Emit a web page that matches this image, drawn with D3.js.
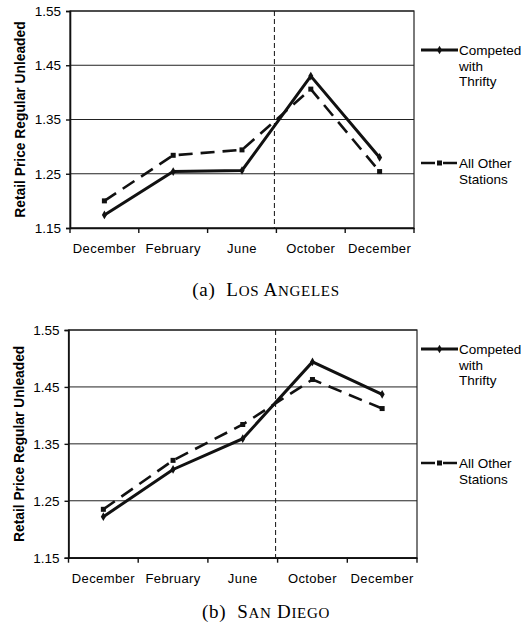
<!DOCTYPE html>
<html>
<head>
<meta charset="utf-8">
<script src="https://cdn.jsdelivr.net/npm/d3@7"></script>
<style>
  body { margin: 0; background: #fff; }
  svg { display: block; }
  text { font-family: "Liberation Sans", Arial, sans-serif; fill: #000; }
</style>
</head>
<body>
<script>
// months on the x axis (five survey dates)
var months = ["December", "February", "June", "October", "December"];
var yTicks = [1.15, 1.25, 1.35, 1.45, 1.55];

// Los Angeles
var laCompeted = [1.174, 1.254, 1.256, 1.430, 1.280];
var laOther = [1.200, 1.284, 1.294, 1.406, 1.254];
// San Diego
var sdCompeted = [1.222, 1.305, 1.359, 1.494, 1.437];
var sdOther = [1.235, 1.321, 1.384, 1.463, 1.412];

var seriesNames = [["Competed", "with", "Thrifty"], ["All Other", "Stations"]];

var w = 530, h = 631;

var svg = d3.select("body").append("svg")
  .attr("width", w)
  .attr("height", h);

//draws one panel
function panel(box, competed, other, label, city) {
  var g = svg.append("g");

  var xScale = d3.scaleBand()
    .domain(d3.range(months.length))
    .range([box.left, box.right]);

  var yScale = d3.scaleLinear()
    .domain([1.15, 1.55])
    .range([box.bottom, box.top]);

  //gridlines
  g.selectAll(".grid")
    .data(yTicks)
    .enter()
    .append("line")
    .attr("x1", box.left)
    .attr("x2", box.right)
    .attr("y1", (d) => yScale(d))
    .attr("y2", (d) => yScale(d))
    .attr("stroke", "#222")
    .attr("stroke-width", 1);

  //frame
  g.append("rect")
    .attr("x", box.left)
    .attr("y", box.top)
    .attr("width", box.right - box.left)
    .attr("height", box.bottom - box.top)
    .attr("fill", "none")
    .attr("stroke", "#222")
    .attr("stroke-width", 1.2);

  //y axis
  var yAxis = d3.axisLeft(yScale)
    .tickValues(yTicks)
    .tickFormat(d3.format(".2f"))
    .tickSize(4)
    .tickPadding(5);

  var ya = g.append("g")
    .attr("transform", "translate(" + box.left + ",0)")
    .call(yAxis);
  ya.select(".domain").attr("stroke", "#111").attr("stroke-width", 1.6);
  ya.selectAll(".tick line").attr("stroke", "#111").attr("stroke-width", 1.4);
  ya.selectAll(".tick text")
    .style("font-family", "'Liberation Sans', Arial, sans-serif")
    .style("font-size", "13.5px")
    .attr("fill", "#000");

  //x axis labels centred in the bands
  var xAxis = d3.axisBottom(xScale)
    .tickFormat((i) => months[i])
    .tickSize(0)
    .tickPadding(16);

  var xa = g.append("g")
    .attr("transform", "translate(0," + box.bottom + ")")
    .call(xAxis);
  xa.select(".domain").attr("stroke", "#111").attr("stroke-width", 1.6);
  xa.selectAll(".tick text")
    .style("font-family", "'Liberation Sans', Arial, sans-serif")
    .style("font-size", "13px")
    .style("letter-spacing", "0.4px")
    .attr("fill", "#000");

  //tick marks on band edges
  var edges = d3.range(months.length).map((i) => xScale(i)).concat([box.right]);
  g.selectAll(".edge")
    .data(edges)
    .enter()
    .append("line")
    .attr("x1", (d) => d)
    .attr("x2", (d) => d)
    .attr("y1", box.bottom)
    .attr("y2", box.bottom + 5)
    .attr("stroke", "#111")
    .attr("stroke-width", 1.4);

  //divider between June and October
  g.append("line")
    .attr("x1", xScale(3) - 2)
    .attr("x2", xScale(3) - 2)
    .attr("y1", box.top)
    .attr("y2", box.bottom)
    .attr("stroke", "#111")
    .attr("stroke-width", 1)
    .attr("stroke-dasharray", "5,3");

  var line = d3.line()
    .x((d, i) => xScale(i) + xScale.bandwidth() / 2)
    .y((d) => yScale(d));

  g.append("path")
    .datum(other)
    .attr("d", line)
    .attr("fill", "none")
    .attr("stroke", "#111")
    .attr("stroke-width", 2.6)
    .attr("stroke-dasharray", "14,8");

  g.selectAll(".osq")
    .data(other)
    .enter()
    .append("rect")
    .attr("x", (d, i) => xScale(i) + xScale.bandwidth() / 2 - 2.5)
    .attr("y", (d) => yScale(d) - 2.5)
    .attr("width", 5)
    .attr("height", 5)
    .attr("fill", "#111");

  g.append("path")
    .datum(competed)
    .attr("d", line)
    .attr("fill", "none")
    .attr("stroke", "#111")
    .attr("stroke-width", 3)
    .attr("stroke-linejoin", "miter");

  g.selectAll(".cdm")
    .data(competed)
    .enter()
    .append("path")
    .attr("d", d3.symbol(d3.symbolDiamond, 22))
    .attr("transform", (d, i) => "translate(" + (xScale(i) + xScale.bandwidth() / 2) + "," + yScale(d) + ")")
    .attr("fill", "#111");

  //y title
  g.append("text")
    .attr("transform", "translate(" + (box.left - 45) + "," + ((box.top + box.bottom) / 2) + ") rotate(-90)")
    .attr("text-anchor", "middle")
    .style("font-size", "13.8px")
    .style("font-weight", "bold")
    .text("Retail Price Regular Unleaded");

  //legend
  var lx = 421, lx2 = 458;
  g.append("line")
    .attr("x1", lx).attr("x2", lx2)
    .attr("y1", box.top + box.leg1).attr("y2", box.top + box.leg1)
    .attr("stroke", "#111").attr("stroke-width", 3);
  g.append("path")
    .attr("d", d3.symbol(d3.symbolDiamond, 22))
    .attr("transform", "translate(" + ((lx + lx2) / 2) + "," + (box.top + box.leg1) + ")")
    .attr("fill", "#111");

  g.append("line")
    .attr("x1", lx).attr("x2", lx2)
    .attr("y1", box.top + box.leg2).attr("y2", box.top + box.leg2)
    .attr("stroke", "#111").attr("stroke-width", 2.6)
    .attr("stroke-dasharray", "14,8");
  g.append("rect")
    .attr("x", (lx + lx2) / 2 - 2.5)
    .attr("y", box.top + box.leg2 - 2.5)
    .attr("width", 5).attr("height", 5)
    .attr("fill", "#111");

  [box.leg1, box.leg2].forEach(function(off, k) {
    g.append("text")
      .attr("x", 459)
      .attr("y", box.top + off + 5)
      .style("font-size", "13.5px")
      .selectAll("tspan")
      .data(seriesNames[k])
      .enter()
      .append("tspan")
      .attr("x", 459)
      .attr("dy", (d, i) => i ? 15.5 : 0)
      .text((d) => d);
  });

  //caption, small caps made by hand
  var cap = svg.append("text")
    .attr("x", 266)
    .attr("y", box.caption)
    .attr("text-anchor", "middle")
    .style("font-family", "'Liberation Serif', 'Times New Roman', serif")
    .style("font-size", "19px")
    .style("letter-spacing", "0.7px");
  cap.append("tspan").text(label + "\u00a0\u00a0");
  city.split(" ").forEach(function(word, i) {
    cap.append("tspan").text((i ? " " : "") + word[0]);
    cap.append("tspan").style("font-size", "15px").text(word.slice(1).toUpperCase());
  });
}

panel({left: 70, right: 414, top: 11, bottom: 228, leg1: 39, leg2: 152, caption: 296},
  laCompeted, laOther, "(a)", "Los Angeles");
panel({left: 68.5, right: 417, top: 330, bottom: 557.7, leg1: 19, leg2: 133, caption: 618},
  sdCompeted, sdOther, "(b)", "San Diego");
</script>
</body>
</html>
